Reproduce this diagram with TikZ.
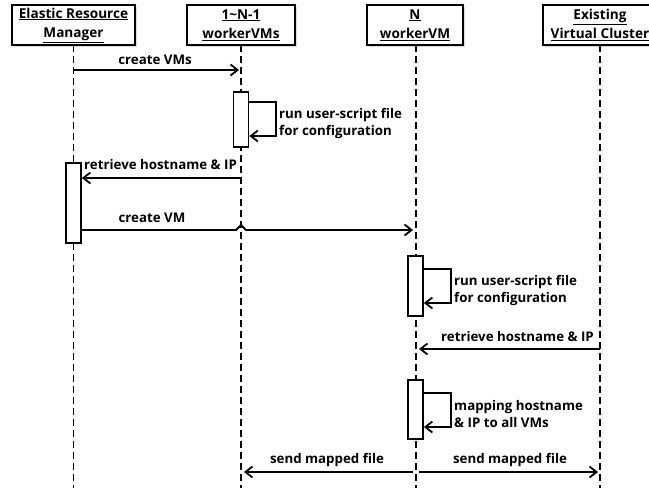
\documentclass[tikz,border=0pt]{standalone}
\usepackage{fontspec}
\setmainfont{Open Sans}
\usetikzlibrary{arrows.meta,shadows}
\begin{document}
\begin{tikzpicture}[x=1pt,y=-1pt, font=\bfseries\fontsize{13.3}{17}\selectfont,
 head/.style={draw, line width=2pt, fill=white, align=center, inner sep=0pt,
   font=\bfseries\fontsize{13.6}{19}\selectfont,
   drop shadow={shadow xshift=1.5pt, shadow yshift=-1.5pt, opacity=0.3}},
 life/.style={line width=1.6pt, dash pattern=on 7pt off 4pt},
 act/.style={draw, line width=1.8pt, fill=white, minimum width=15pt, inner sep=0pt},
 msg/.style={line width=1.8pt, -{Straight Barb[length=7pt,width=11pt]}},
 lbl/.style={inner sep=1pt}]
\useasboundingbox (0,0) rectangle (649,488);
\clip (0,0) rectangle (649,488);

% lifelines first (behind)
\coordinate (x1) at (73.5,45);
\coordinate (x2) at (241,45);
\coordinate (x3) at (416,45);
\coordinate (x4) at (600,45);
\draw[life] (x1) -- (x1 |- 0,488);
\draw[life] (x2) -- (x2 |- 0,488);
\draw[life] (x3) -- (x3 |- 0,488);
\draw[life] (x4) -- (x4 |- 0,488);

% headers
\node[head, minimum width=123pt, minimum height=40pt] (h1) at (73.5,25) {\underline{Elastic Resource}\\\underline{Manager}};
\node[head, minimum width=108pt, minimum height=40pt] (h2) at (241,25) {\underline{1\textasciitilde N-1}\\\underline{workerVMs}};
\node[head, minimum width=96pt, minimum height=40pt] (h3) at (415,25) {\underline{N}\\\underline{workerVM}};
\node[head, minimum width=114pt, minimum height=40pt] (h4) at (600,25) {\underline{Existing}\\\underline{Virtual Cluster}};

% activations
\node[act, minimum height=55pt] (a1) at (241,119.5) {};
\node[act, minimum height=80pt] (a2) at (73.5,203) {};
\node[act, minimum height=60pt] (a3) at (415.5,286) {};
\node[act, minimum height=59pt] (a4) at (415.5,409.5) {};

% create VMs
\draw[msg, shorten >=2pt] (x1 |- 0,70) -- (x2 |- 0,70);
\node[lbl] (t1) at (155,60) {create VMs};

% self loop 1
\draw[msg] (a1.east |- 0,102) -| (276,136) -- (a1.east |- 0,136);
\node[lbl, anchor=west, align=left] (t2) at (278,123.5) {run user-script file\\for configuration};

% retrieve 1
\draw[msg] (x2 |- 0,178) -- (a2.east |- 0,178);
\node[lbl, anchor=west] (t3) at (83,165) {retrieve hostname \& IP};

% create VM with jump
\draw[msg, shorten >=3pt] (a2.east |- 0,230) -- (236,230) -- (241,225) -- (246,230) -- (x3 |- 0,230);
\node[lbl] (t4) at (152,218) {create VM};

% self loop 2
\draw[msg] (a3.east |- 0,269) -| (451,303) -- (a3.east |- 0,303);
\node[lbl, anchor=west, align=left] (t5) at (453,290.5) {run user-script file\\for configuration};

% retrieve 2
\draw[msg, shorten >=3pt] (x4 |- 0,349) -- (x3 |- 0,349);
\node[lbl, anchor=east] (t6) at (595,337) {retrieve hostname \& IP};

% self loop 3
\draw[msg] (a4.east |- 0,393) -| (451,427) -- (a4.east |- 0,427);
\node[lbl, anchor=west, align=left] (t7) at (453,414) {mapping hostname\\\& IP to all VMs};

% send mapped file
\draw[msg, shorten >=3pt, shorten <=3pt] (x3 |- 0,472) -- (x2 |- 0,472);
\draw[msg, shorten >=2pt, shorten <=3pt] (x3 |- 0,472) -- (x4 |- 0,472);
\node[lbl] (t8) at (327,460) {send mapped file};
\node[lbl] (t9) at (510,460) {send mapped file};
\end{tikzpicture}
\end{document}
